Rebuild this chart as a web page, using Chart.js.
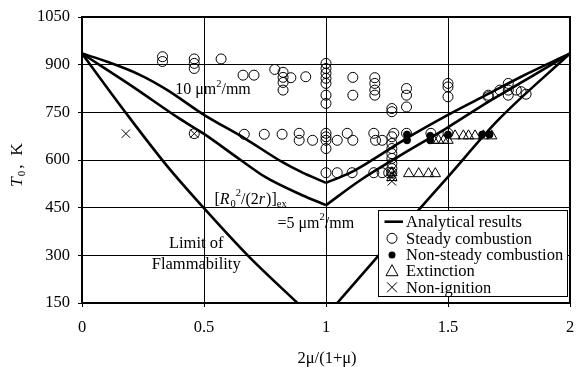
<!DOCTYPE html>
<html>
<head>
<meta charset="utf-8">
<script src="https://cdn.jsdelivr.net/npm/chart.js@4/dist/chart.umd.min.js"></script>
<style>
  html, body { margin: 0; padding: 0; background: #fff; }
  #wrap { width: 577px; height: 367px; }
</style>
</head>
<body>
<div id="wrap"><canvas id="c" width="577" height="367"></canvas></div>
<script>
// Axis ticks
const xTickValues = [0, 0.5, 1, 1.5, 2];
const yTickValues = [150, 300, 450, 600, 750, 900, 1050];

// Analytical curves: [R0^2/(2r)]ex = 10 um^2/mm (left and right branch)
const curve10LeftX  = [0, 0.1, 0.237, 0.35, 0.5, 0.665, 0.82, 0.9, 1.0];
const curve10LeftY  = [935, 910, 868, 820, 742, 669, 594, 562, 528];
const curve10RightX = [1.0, 1.1, 1.2, 1.33, 1.5, 1.665, 1.8, 2.0];
const curve10RightY = [528, 560, 605, 668, 742, 808, 862, 935];

// Analytical curves: [R0^2/(2r)]ex = 5 um^2/mm
const curve5LeftX  = [0, 0.2, 0.4, 0.5, 0.65, 0.754, 0.9, 1.0];
const curve5LeftY  = [935, 835, 730, 682, 600, 545, 490, 458];
const curve5RightX = [1.0, 1.142, 1.3, 1.5, 1.665, 1.85, 2.0];
const curve5RightY = [458, 537, 612, 703, 783, 866, 935];

// Limit of flammability
const limitLeftX  = [0, 0.18, 0.35, 0.498, 0.679, 0.883];
const limitLeftY  = [935, 748, 580, 450, 300, 150];
const limitRightX = [1.046, 1.216, 1.5, 1.706, 2.0];
const limitRightY = [150, 300, 547, 726, 935];

// Experiments: steady combustion
const steadyX = [0.33, 0.33, 0.46, 0.46, 0.46, 0.57, 0.66, 0.705, 0.79, 0.824, 0.824, 0.824, 0.824,
  0.856, 0.917, 1, 1, 1, 1, 1, 1, 1, 1.11, 1.11, 1.2, 1.2, 1.2, 1.2, 1.27, 1.27,
  1.33, 1.33, 1.33, 1.5, 1.5, 1.5, 1.665, 1.665, 1.713, 1.747, 1.747, 1.747, 1.78, 1.80, 1.82,
  0.46, 0.665, 0.747, 0.82, 0.89, 0.89, 0.945, 1, 1, 1, 1, 1.046, 1.087, 1.11, 1.196, 1.203, 1.23, 1.278,
  1.27, 1.27, 1.27, 1.27, 1.27, 1.27, 1.27, 1.27, 1.33, 1.43, 1.5,
  1.0, 1.046, 1.107, 1.196, 1.23, 1.257];
const steadyY = [925, 910, 918, 904, 888, 918, 867, 867, 885, 876, 860, 844, 820,
  859, 862, 904, 888, 873, 857, 841, 804, 778, 860, 804, 859, 841, 820, 804, 762, 752,
  825, 804, 767, 841, 830, 799, 804, 799, 820, 841, 820, 804, 820, 815, 807,
  683, 681, 681, 681, 684, 662, 662, 684, 673, 662, 636, 662, 684, 662, 684, 662, 662, 684,
  673, 652, 636, 620, 605, 589, 573, 560, 684, 684, 684,
  560, 560, 560, 560, 560, 560];

// Non-steady combustion
const nonSteadyX = [1.332, 1.332, 1.427, 1.427, 1.5, 1.64, 1.67];
const nonSteadyY = [680, 662, 676, 662, 680, 680, 680];

// Extinction
const extinctionX = [1.529, 1.563, 1.584, 1.611, 1.645, 1.679, 1.441, 1.461, 1.482, 1.5,
  1.339, 1.38, 1.42, 1.448, 1.27, 1.27];
const extinctionY = [676, 676, 676, 676, 676, 676, 662, 662, 662, 662,
  557, 557, 557, 557, 560, 545];

// Non-ignition
const nonIgnitionX = [0.18, 0.46, 1.27, 1.27, 1.27];
const nonIgnitionY = [683, 683, 557, 545, 533];

const legendLabels = ['Analytical results', 'Steady combustion', 'Non-steady combustion', 'Extinction', 'Non-ignition'];

const SERIF = '"Liberation Serif", "DejaVu Serif", serif';

function pts(xs, ys) { return xs.map((x, i) => ({ x: x, y: ys[i] })); }

function curve(xs, ys) {
  return {
    data: pts(xs, ys), showLine: true, pointRadius: 0, borderColor: '#000',
    borderWidth: 2.6, cubicInterpolationMode: 'monotone', fill: false, order: 5
  };
}

// Draws a run of text pieces: {t, italic, size, dy}
function richText(ctx, x, y, parts) {
  let cx = x;
  for (const p of parts) {
    ctx.font = (p.italic ? 'italic ' : '') + p.size + 'px ' + SERIF;
    ctx.fillText(p.t, cx, y + (p.dy || 0));
    cx += ctx.measureText(p.t).width + (p.gap || 0);
  }
}

const overlay = {
  id: 'overlay',
  afterDatasetsDraw(chart) {
    const ctx = chart.ctx;
    const a = chart.chartArea;
    const xs = chart.scales.x, ys = chart.scales.y;
    ctx.save();
    // frame
    ctx.strokeStyle = '#000';
    ctx.lineWidth = 2;
    ctx.strokeRect(a.left, a.top, a.right - a.left, a.bottom - a.top);

    ctx.fillStyle = '#000';
    ctx.textBaseline = 'alphabetic';
    ctx.textAlign = 'left';
    // curve labels
    let px = xs.getPixelForValue(0.382), py = ys.getPixelForValue(808);
    richText(ctx, px, py, [
      { t: '10 \u03bcm', size: 16 }, { t: '2', size: 10.5, dy: -7 }, { t: '/mm', size: 16 }
    ]);
    px = xs.getPixelForValue(0.543); py = ys.getPixelForValue(460);
    richText(ctx, px, py, [
      { t: '[', size: 16 }, { t: 'R', size: 16, italic: true, gap: 1 }, { t: '0', size: 10.5, dy: 3 },
      { t: '2', size: 10.5, dy: -8 }, { t: '/(2', size: 16 }, { t: 'r', size: 16, italic: true, gap: 1 },
      { t: ')]', size: 16 }, { t: 'ex', size: 10.5, dy: 3 }
    ]);
    px = xs.getPixelForValue(0.801); py = ys.getPixelForValue(386);
    richText(ctx, px, py, [
      { t: '=5 \u03bcm', size: 16 }, { t: '2', size: 10.5, dy: -8 }, { t: '/mm', size: 16 }
    ]);
    ctx.textAlign = 'center';
    ctx.font = '16.5px ' + SERIF;
    ctx.fillText('Limit of', xs.getPixelForValue(0.468), ys.getPixelForValue(323));
    ctx.fillText('Flammability', xs.getPixelForValue(0.468), ys.getPixelForValue(258));

    // y title (rotated)
    ctx.save();
    ctx.translate(22, 160);
    ctx.rotate(-Math.PI / 2);
    ctx.textAlign = 'left';
    richText(ctx, -27, 0, [
      { t: 'T', size: 17.5, italic: true, gap: 1 }, { t: '0', size: 11, dy: 3, gap: 2 },
      { t: ',  K', size: 17.5 }
    ]);
    ctx.restore();

    // x title
    ctx.textAlign = 'center';
    ctx.font = '16.5px ' + SERIF;
    ctx.fillText('2\u03bc/(1+\u03bc)', 327, 363);

    // legend
    const lx = 378.5, ly = 210.5, lw = 189, lh = 86;
    ctx.fillStyle = '#fff';
    ctx.fillRect(lx, ly, lw, lh);
    ctx.strokeStyle = '#000';
    ctx.lineWidth = 1;
    ctx.strokeRect(lx, ly, lw, lh);
    ctx.fillStyle = '#000';
    ctx.textAlign = 'left';
    ctx.textBaseline = 'middle';
    ctx.font = '16.5px ' + SERIF;
    const rowY = [221.7, 238.3, 255, 270.7, 287.3];
    const sx = 392;
    legendLabels.forEach((lab, i) => {
      const y = rowY[i];
      ctx.fillText(lab, 406, y + 1);
      ctx.beginPath();
      if (i === 0) {
        ctx.lineWidth = 2.6;
        ctx.moveTo(384.5, y); ctx.lineTo(403, y); ctx.stroke();
      } else if (i === 1) {
        ctx.lineWidth = 1;
        ctx.arc(sx, y, 5, 0, Math.PI * 2); ctx.stroke();
      } else if (i === 2) {
        ctx.arc(sx, y, 3.5, 0, Math.PI * 2); ctx.fill();
      } else if (i === 3) {
        ctx.lineWidth = 1;
        ctx.moveTo(sx, y - 6); ctx.lineTo(sx + 6, y + 5); ctx.lineTo(sx - 6, y + 5); ctx.closePath(); ctx.stroke();
      } else {
        ctx.lineWidth = 1;
        ctx.moveTo(sx - 5, y - 5); ctx.lineTo(sx + 5, y + 5);
        ctx.moveTo(sx + 5, y - 5); ctx.lineTo(sx - 5, y + 5); ctx.stroke();
      }
    });
    ctx.restore();
  }
};

const markerBase = { showLine: false, borderColor: '#000', borderWidth: 1, backgroundColor: 'rgba(0,0,0,0)' };

new Chart(document.getElementById('c'), {
  type: 'scatter',
  data: {
    datasets: [
      Object.assign({ data: pts(steadyX, steadyY), pointStyle: 'circle', pointRadius: 5, order: 4 }, markerBase),
      Object.assign({}, markerBase, { data: pts(nonSteadyX, nonSteadyY), pointStyle: 'circle', pointRadius: 3.5, backgroundColor: '#000', order: 3 }),
      Object.assign({ data: pts(extinctionX, extinctionY), pointStyle: 'triangle', pointRadius: 6, order: 2 }, markerBase),
      Object.assign({ data: pts(nonIgnitionX, nonIgnitionY), pointStyle: 'crossRot', pointRadius: 6, order: 1 }, markerBase),
      curve(curve10LeftX, curve10LeftY), curve(curve10RightX, curve10RightY),
      curve(curve5LeftX, curve5LeftY), curve(curve5RightX, curve5RightY),
      curve(limitLeftX, limitLeftY), curve(limitRightX, limitRightY)
    ]
  },
  options: {
    responsive: false,
    animation: false,
    events: [],
    layout: { padding: { left: 0, top: 17, right: 3, bottom: 0 } },
    plugins: { legend: { display: false }, tooltip: { enabled: false } },
    scales: {
      x: {
        type: 'linear', min: 0, max: 2,
        afterBuildTicks: s => { s.ticks = xTickValues.map(v => ({ value: v })); },
        afterFit: s => { s.height = 64; s.paddingLeft = 0; s.paddingRight = 0; },
        grid: { color: '#000', lineWidth: 1, tickLength: 4, drawTicks: true },
        border: { color: '#000', width: 2 },
        ticks: { color: '#000', font: { family: SERIF, size: 16.5 }, padding: 11, maxRotation: 0,
                 callback: v => String(v) }
      },
      y: {
        type: 'linear', min: 150, max: 1050,
        afterBuildTicks: s => { s.ticks = yTickValues.map(v => ({ value: v })); },
        afterFit: s => { s.width = 82; s.paddingTop = 0; s.paddingBottom = 0; },
        grid: { color: '#000', lineWidth: 1, tickLength: 4, drawTicks: true },
        border: { color: '#000', width: 2 },
        ticks: { color: '#000', font: { family: SERIF, size: 16.5 }, padding: 8,
                 callback: v => String(v) }
      }
    }
  },
  plugins: [overlay]
});
</script>
</body>
</html>
